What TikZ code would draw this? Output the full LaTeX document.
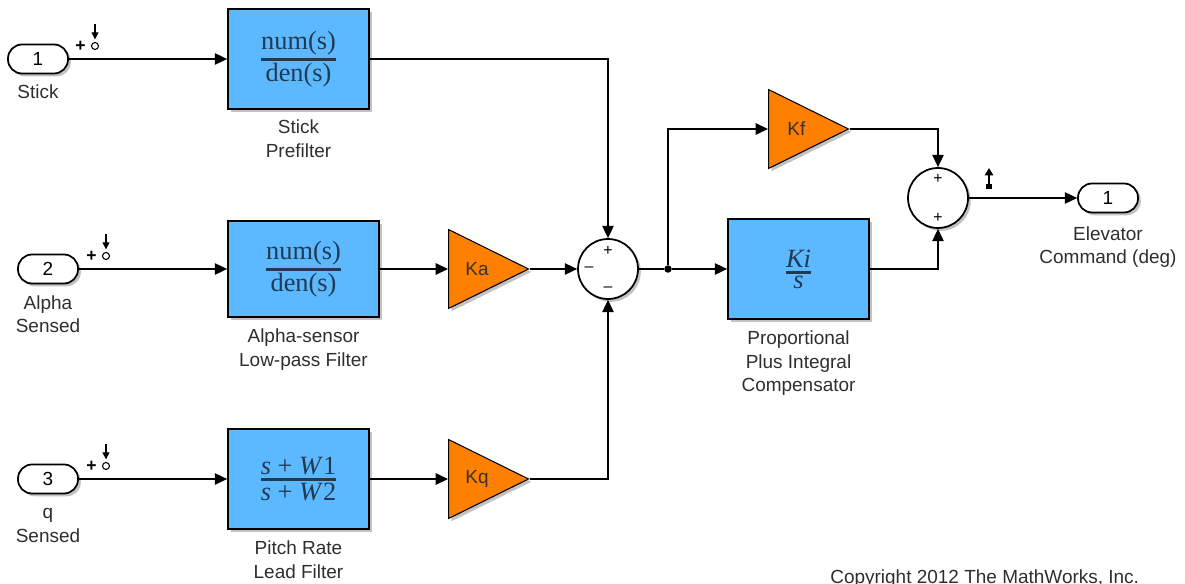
\documentclass[tikz,border=0pt]{standalone}
\usepackage{fontspec}
\setmainfont{Liberation Sans}
\newfontfamily\fracfont{Liberation Serif}
\usetikzlibrary{arrows.meta,positioning,shapes.geometric,shadows}
\definecolor{blockblue}{HTML}{5DB9FF}
\definecolor{gainorange}{HTML}{FF8000}
\definecolor{fracink}{HTML}{203A53}
\definecolor{labelgray}{HTML}{2E2E2E}

% fraction with a thick bar, as drawn inside the blocks
\newsavebox\fracnum
\newsavebox\fracden
\newlength\fracwd
\newcommand{\blockfrac}[2]{%
  \sbox\fracnum{#1}\sbox\fracden{#2}%
  \setlength\fracwd{\wd\fracnum}%
  \ifdim\wd\fracden>\fracwd\setlength\fracwd{\wd\fracden}\fi
  \vbox{\offinterlineskip\halign{\hfil##\hfil\cr
    \usebox\fracnum\cr\noalign{\kern2pt}
    \rule{\fracwd}{1.7pt}\cr\noalign{\kern1.2pt}
    \usebox\fracden\cr}}}

\begin{document}
\begin{tikzpicture}[
  x=0.02cm, y=-0.02cm,
  font=\fontsize{10.8}{13.3}\selectfont,
  softshadow/.style={drop shadow={shadow xshift=1.6pt,shadow yshift=-1.6pt,opacity=0.4,fill=black!60}},
  port/.style={draw,line width=1pt,fill=white,rounded corners=0.28cm,minimum width=1.2cm,minimum height=0.58cm,inner sep=0pt,softshadow},
  blockbox/.style={draw,line width=1pt,fill=blockblue,text=fracink,inner sep=0pt,font=\fracfont\fontsize{15}{18}\selectfont,softshadow},
  gain/.style={isosceles triangle,isosceles triangle stretches,shape border rotate=0,draw,line width=0.6pt,fill=gainorange,minimum width=1.58cm,minimum height=1.6cm,inner sep=0pt,anchor=lower side,softshadow},
  gaintxt/.style={inner sep=0pt,text=black!80},
  sumnode/.style={circle,draw,line width=1pt,fill=white,minimum size=1.2cm,inner sep=0pt,softshadow},
  sgn/.style={font=\fontsize{9}{9}\selectfont,inner sep=0pt},
  tpplus/.style={font=\fontsize{10}{10}\selectfont\bfseries,inner sep=0pt},
  lbl/.style={align=center,inner sep=0pt,text=labelgray},
  wire/.style={line width=0.75pt},
  arr/.style={wire,-{Triangle[length=7pt,width=6.5pt]}},
  tparr/.style={line width=0.7pt,-{Triangle[length=4pt,width=4pt]},shorten >=1.5pt},
  dimarr/.style={line width=0.9pt,{Square[length=2.6pt,width=3pt]}-{Triangle[length=4.2pt,width=4.8pt]}},
  tpcirc/.style={circle,draw,line width=0.6pt,inner sep=0pt,minimum size=0.14cm},
  dot/.style={circle,fill,inner sep=0pt,minimum size=0.15cm}
]
\useasboundingbox (0,0) rectangle (1185,584);

% inports
\node[port] (in1) at (38,59) {1};
\node[port] (in2) at (48,269) {2};
\node[port] (in3) at (48,479) {3};
\node[lbl,below=0.2cm of in1] (in1lbl) {Stick};
\node[lbl,below=0.22cm of in2] (in2lbl) {Alpha\\Sensed};
\node[lbl,below=0.22cm of in3] (in3lbl) {\vphantom{S}q\\Sensed};

% test points on the input signals
\foreach \n/\x/\y in {1/95/59,2/106/269,3/106/479}{
  \node[tpcirc] (tp\n) at (\x,{\y-13}) {};
  \node[tpplus,left=0.1cm of tp\n] (tpplus\n) {+};
  \coordinate (tptop\n) at (\x,{\y-35});
  \draw[tparr] (tptop\n) -- (tp\n.north);
}

% filters
\node[blockbox,minimum width=2.82cm,minimum height=2cm] (pre) at (298.5,59) {\blockfrac{num(s)}{den(s)}};
\node[blockbox,minimum width=3.02cm,minimum height=1.92cm] (alf) at (303.5,269) {\blockfrac{num(s)}{den(s)}};
\node[blockbox,minimum width=2.82cm,minimum height=2cm] (pitch) at (298.5,479) {\blockfrac{\textit{s} + \textit{W}1}{\textit{s} + \textit{W}2}};
\node[lbl,below=0.2cm of pre] (prelbl) {Stick\\Prefilter};
\node[lbl,below=0.22cm of alf] (alflbl) {Alpha-sensor\\Low-pass Filter};
\node[lbl,below=0.22cm of pitch] (pitchlbl) {Pitch Rate\\Lead Filter};

% gains
\node[gain] (ka) at (448,269) {};
\node[gain] (kq) at (448,479) {};
\node[gain] (kf) at (768,129) {};
\node[gaintxt,right=0.34cm of ka.lower side] (katxt) {Ka};
\node[gaintxt,right=0.34cm of kq.lower side] (kqtxt) {Kq};
\node[gaintxt,right=0.38cm of kf.lower side] (kftxt) {Kf};

% sums
\node[sumnode] (sum1) at (608,269) {};
\node[sgn] (s1a) at ([yshift=0.37cm]sum1.center) {+};
\node[sgn] (s1b) at ([xshift=-0.38cm]sum1.center) {--};
\node[sgn] (s1c) at ([yshift=-0.4cm]sum1.center) {--};
\node[sumnode] (sum2) at (938,198) {};
\node[sgn] (s2a) at ([yshift=0.38cm]sum2.center) {+};
\node[sgn] (s2b) at ([yshift=-0.4cm]sum2.center) {+};

% compensator and output
\node[blockbox,minimum width=2.82cm,minimum height=2cm] (ki) at (798.5,269) {\blockfrac{\textit{Ki}}{\textit{s}}};
\node[lbl,below=0.22cm of ki] (kilbl) {Proportional\\Plus Integral\\Compensator};
\node[dot] (jn) at (668,269) {};
\node[port] (out1) at (1108,198) {1};
\node[lbl,below=0.26cm of out1] (outlbl) {Elevator\\Command (deg)};
\coordinate (dimtop) at (989,168);
\coordinate (dimbot) at (989,189);
\draw[dimarr] (dimbot) -- (dimtop);

% signals
\draw[arr] (in1) -- (pre);
\draw[arr] (in2) -- (alf);
\draw[arr] (in3) -- (pitch);
\draw[arr] (pre.east) -| (sum1.north);
\draw[arr] (alf) -- (ka.lower side);
\draw[arr] (ka.apex) -- (sum1.west);
\draw[arr] (pitch) -- (kq.lower side);
\draw[arr] (kq.apex) -| (sum1.south);
\draw[wire] (sum1) -- (jn);
\draw[arr] (jn) -- (ki);
\draw[arr] (jn) |- (kf.lower side);
\draw[arr] (kf.apex) -| (sum2.north);
\draw[arr] (ki.east) -| (sum2.south);
\draw[arr] (sum2) -- (out1);

\node[anchor=base west,inner sep=0pt,text=labelgray] (copy) at (830,583) {Copyright 2012 The MathWorks, Inc.};
\end{tikzpicture}
\end{document}
